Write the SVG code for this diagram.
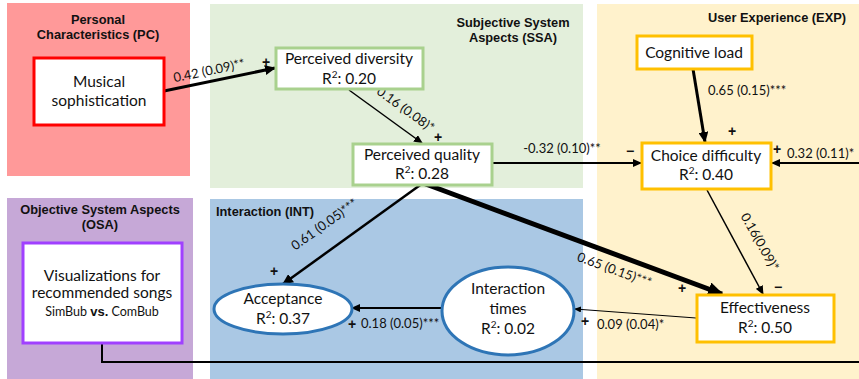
<svg xmlns="http://www.w3.org/2000/svg" width="859" height="379" viewBox="0 0 859 379">
<style>
.panel-title{font-family:"Liberation Sans",Arial,sans-serif;font-weight:bold;font-size:12.8px;fill:#111;text-anchor:middle}
.node-text{font-family:Lato,"Open Sans",sans-serif;font-size:15.5px;fill:#111;text-anchor:middle}
.small-text{font-family:Lato,"Open Sans",sans-serif;font-size:12.5px;fill:#111;text-anchor:middle}
.lbl{font-family:Lato,"Open Sans",sans-serif;font-size:13px;fill:#111}
.sign{font-family:"Liberation Sans",Arial,sans-serif;font-weight:bold;font-size:14px;fill:#111;text-anchor:middle}
.conn{fill:none;stroke:#000;stroke-linecap:butt}
.box{fill:#fff}
</style>
<defs>
<marker id="arrowL" markerUnits="userSpaceOnUse" markerWidth="16" markerHeight="14" refX="14" refY="7" orient="auto"><path d="M0,0 L16,7 L0,14 z" fill="#000"/></marker>
<marker id="arrowM" markerUnits="userSpaceOnUse" markerWidth="11" markerHeight="10" refX="10" refY="5" orient="auto"><path d="M0,0 L11,5 L0,10 z" fill="#000"/></marker>
<marker id="arrowS" markerUnits="userSpaceOnUse" markerWidth="9" markerHeight="8" refX="8" refY="4" orient="auto"><path d="M0,0 L9,4 L0,8 z" fill="#000"/></marker>
<marker id="arrowXS" markerUnits="userSpaceOnUse" markerWidth="7" markerHeight="6" refX="6" refY="3" orient="auto"><path d="M0,0 L7,3 L0,6 z" fill="#000"/></marker>
</defs>
<rect width="859" height="379" fill="#fff"/>
<g id="panels">
<rect x="7" y="3" width="183" height="173" fill="#FF9999"/>
<rect x="210" y="4" width="373" height="184" fill="#E3EFDB"/>
<rect x="597" y="4" width="262" height="375" fill="#FFF2CC"/>
<rect x="7" y="198" width="186" height="181" fill="#C6A8D7"/>
<rect x="210" y="199" width="373" height="180" fill="#AAC8E4"/>
<text class="panel-title" x="98" y="24">Personal</text>
<text class="panel-title" x="98" y="39">Characteristics (PC)</text>
<text class="panel-title" x="513" y="27">Subjective System</text>
<text class="panel-title" x="513" y="42">Aspects (SSA)</text>
<text class="panel-title" x="777" y="22">User Experience (EXP)</text>
<text class="panel-title" x="100" y="214">Objective System Aspects</text>
<text class="panel-title" x="100" y="229">(OSA)</text>
<text class="panel-title" x="216" y="216" style="text-anchor:start">Interaction (INT)</text>
</g>
<g id="connectors">
<path class="conn" d="M164,91 L275,68" stroke-width="3" marker-end="url(#arrowM)"/>
<path class="conn" d="M349,90 L422,143" stroke-width="1.5" marker-end="url(#arrowS)"/>
<path class="conn" d="M492,163 L641,163" stroke-width="2" marker-end="url(#arrowS)"/>
<path class="conn" d="M693,69 L705,142" stroke-width="3" marker-end="url(#arrowM)"/>
<path class="conn" d="M859,163 L772,163" stroke-width="2" marker-end="url(#arrowS)"/>
<path class="conn" d="M707,190 L763,294" stroke-width="1.5" marker-end="url(#arrowS)"/>
<path class="conn" d="M423,183 L283,284" stroke-width="2.5" marker-end="url(#arrowM)"/>
<path class="conn" d="M423,183 L722,294" stroke-width="5" marker-end="url(#arrowL)"/>
<path class="conn" d="M442,308 L352,308" stroke-width="2" marker-end="url(#arrowS)"/>
<path class="conn" d="M696,318 L575,309" stroke-width="1" marker-end="url(#arrowXS)"/>
<path class="conn" d="M102,344 L102,362 L859,362" stroke-width="2"/>
<text class="lbl" transform="translate(210,75) rotate(-11.7)" text-anchor="middle">0.42 (0.09)**</text>
<text class="sign" x="266" y="67">+</text>
<text class="lbl" transform="translate(403,113) rotate(36)" text-anchor="middle">0.16 (0.08)*</text>
<text class="sign" x="438" y="142">+</text>
<text class="lbl" x="562" y="153" text-anchor="middle">-0.32 (0.10)**</text>
<text class="sign" x="630" y="156">−</text>
<text class="lbl" x="708" y="95">0.65 (0.15)***</text>
<text class="sign" x="732" y="136">+</text>
<text class="sign" x="777" y="154">+</text>
<text class="lbl" x="787" y="158">0.32 (0.11)*</text>
<text class="lbl" transform="translate(756,244) rotate(60.6)" text-anchor="middle">0.16(0.09)*</text>
<text class="sign" x="778" y="292">−</text>
<text class="lbl" transform="translate(327,228) rotate(-35.5)" text-anchor="middle">0.61 (0.05)***</text>
<text class="sign" x="274" y="276">+</text>
<text class="lbl" transform="translate(613,274) rotate(20.2)" text-anchor="middle">0.65 (0.15)***</text>
<text class="sign" x="682" y="293">+</text>
<text class="sign" x="352" y="329">+</text>
<text class="lbl" x="361" y="328">0.18 (0.05)***</text>
<text class="sign" x="585" y="326">+</text>
<text class="lbl" x="597" y="329">0.09 (0.04)*</text>
</g>
<g id="musical-sophistication">
<rect class="box" x="34" y="58" width="130" height="67" stroke="#FF0000" stroke-width="3"/>
<text class="node-text" x="99" y="87">Musical</text>
<text class="node-text" x="99" y="106">sophistication</text>
</g>
<g id="perceived-diversity">
<rect class="box" x="276" y="48" width="147" height="41" stroke="#A9D18E" stroke-width="3"/>
<text class="node-text" x="349" y="64">Perceived diversity</text>
<text class="node-text" x="349" y="84">R<tspan style="font-size:10px" dy="-6">2</tspan><tspan dy="6">: 0.20</tspan></text>
</g>
<g id="perceived-quality">
<rect class="box" x="353" y="144" width="139" height="41" stroke="#A9D18E" stroke-width="3"/>
<text class="node-text" x="422" y="160">Perceived quality</text>
<text class="node-text" x="422" y="179">R<tspan style="font-size:10px" dy="-6">2</tspan><tspan dy="6">: 0.28</tspan></text>
</g>
<g id="cognitive-load">
<rect class="box" x="637" y="36" width="115" height="33" stroke="#FFC000" stroke-width="3"/>
<text class="node-text" x="694" y="58">Cognitive load</text>
</g>
<g id="choice-difficulty">
<rect class="box" x="642" y="143" width="129" height="46" stroke="#FFC000" stroke-width="3"/>
<text class="node-text" x="706" y="161">Choice difficulty</text>
<text class="node-text" x="706" y="180">R<tspan style="font-size:10px" dy="-6">2</tspan><tspan dy="6">: 0.40</tspan></text>
</g>
<g id="effectiveness">
<rect class="box" x="697" y="295" width="137" height="47" stroke="#FFC000" stroke-width="3"/>
<text class="node-text" x="765" y="313">Effectiveness</text>
<text class="node-text" x="765" y="333">R<tspan style="font-size:10px" dy="-6">2</tspan><tspan dy="6">: 0.50</tspan></text>
</g>
<g id="visualizations">
<rect class="box" x="23" y="243" width="159" height="100" stroke="#A040FF" stroke-width="3"/>
<text class="node-text" x="102" y="281">Visualizations for</text>
<text class="node-text" x="102" y="298">recommended songs</text>
<text class="small-text" x="102" y="316">SimBub <tspan style="font-family:'Liberation Sans',Arial,sans-serif;font-weight:bold;font-size:13px">vs.</tspan> ComBub</text>
</g>
<g id="acceptance">
<ellipse cx="283" cy="309" rx="69" ry="25" fill="#fff" stroke="#2E75B6" stroke-width="3"/>
<text class="node-text" x="283" y="304">Acceptance</text>
<text class="node-text" x="283" y="324">R<tspan style="font-size:10px" dy="-6">2</tspan><tspan dy="6">: 0.37</tspan></text>
</g>
<g id="interaction-times">
<ellipse cx="508" cy="311" rx="66" ry="44" fill="#fff" stroke="#2E75B6" stroke-width="3"/>
<text class="node-text" x="508" y="294">Interaction</text>
<text class="node-text" x="508" y="314">times</text>
<text class="node-text" x="508" y="334">R<tspan style="font-size:10px" dy="-6">2</tspan><tspan dy="6">: 0.02</tspan></text>
</g>
</svg>
